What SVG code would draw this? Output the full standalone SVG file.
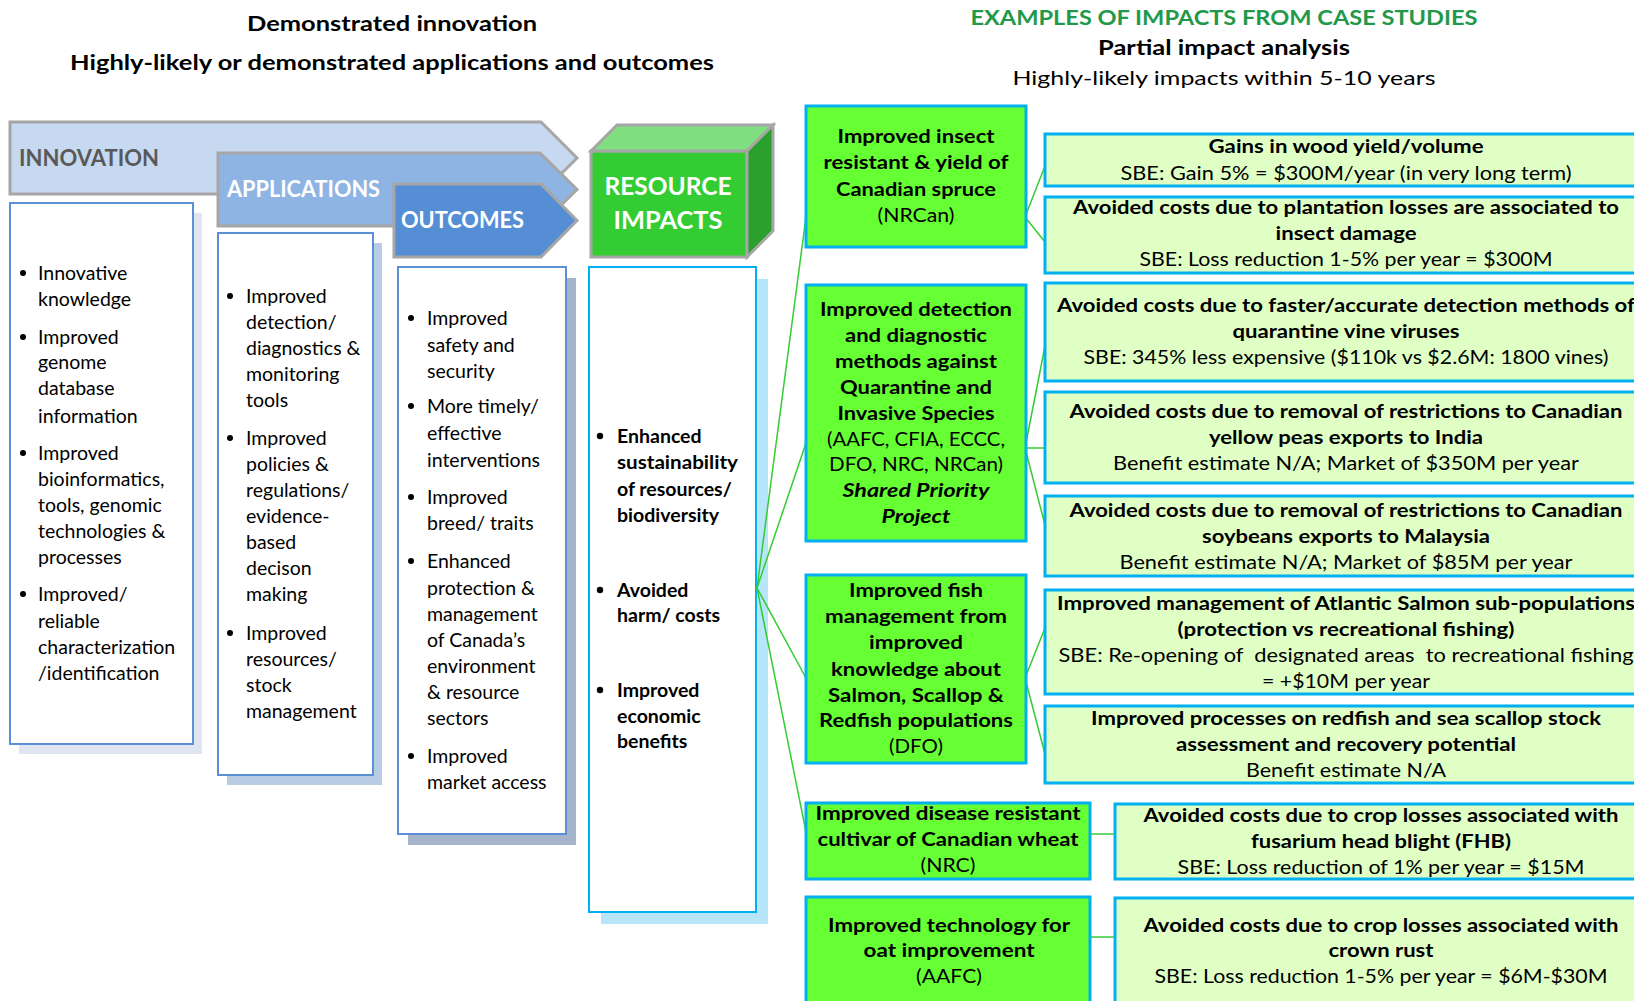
<svg xmlns="http://www.w3.org/2000/svg" width="1634" height="1001" viewBox="0 0 1634 1001">
<style>
text{font-family:Lato,"Open Sans","Liberation Sans",sans-serif;fill:#000}
.h{font-size:20px;font-weight:bold}
.l{font-size:19.5px}
.bx{font-size:19.5px}
.b{font-weight:bold}
.i{font-style:italic}
.c{text-anchor:middle}
.arrow{stroke:#A6A6A6;stroke-width:3}
.lab{font-size:22.5px;font-weight:bold}
.gbox{fill:#66FF33;stroke:#00B0F0;stroke-width:3}
.lbox{fill:#DFFFC4;stroke:#00B0F0;stroke-width:3}
.conn line{stroke:#33CC33;stroke-width:1.5}
.dot{fill:#000}
</style>

<g id="headers">
<text class="h c" x="392" y="31" textLength="290" lengthAdjust="spacingAndGlyphs">Demonstrated innovation</text>
<text class="h c" x="392" y="70" textLength="644" lengthAdjust="spacingAndGlyphs">Highly-likely or demonstrated applications and outcomes</text>
<text class="h c" x="1224" y="25" style="fill:#22994A" textLength="507" lengthAdjust="spacingAndGlyphs">EXAMPLES OF IMPACTS FROM CASE STUDIES</text>
<text class="h c" x="1224" y="55" textLength="252" lengthAdjust="spacingAndGlyphs">Partial impact analysis</text>
<text class="c" x="1224" y="85" style="font-size:20px" textLength="423" lengthAdjust="spacingAndGlyphs">Highly-likely impacts within 5-10 years</text>
</g>

<g id="innovation">
<polygon class="arrow" points="10,122 541,122 577,158 541,194 10,194" fill="#C6D9F0"/>
<text class="lab" x="19" y="166" style="fill:#595959" textLength="140" lengthAdjust="spacingAndGlyphs">INNOVATION</text>
</g>
<g id="applications">
<polygon class="arrow" points="218,153 540,153 577,189.5 540,226 218,226" fill="#8EB4E3"/>
<text class="lab" x="227" y="197" style="fill:#fff" textLength="153" lengthAdjust="spacingAndGlyphs">APPLICATIONS</text>
</g>
<g id="outcomes">
<polygon class="arrow" points="394,184 541,184 577,220.5 541,257 394,257" fill="#558ED5"/>
<text class="lab" x="401" y="228" style="fill:#fff" textLength="123" lengthAdjust="spacingAndGlyphs">OUTCOMES</text>
</g>
<g id="resource-impacts">
<rect class="arrow" x="591" y="151" width="156" height="106" fill="#33CC33"/>
<polygon class="arrow" points="591,151 617,125 773,125 747,151" fill="#80DF80"/>
<polygon class="arrow" points="747,151 773,125 773,231 747,257" fill="#2CA02C"/>
<text class="c" x="668" y="195" style="font-size:25px;font-weight:bold;fill:#fff" textLength="127" lengthAdjust="spacingAndGlyphs">RESOURCE</text>
<text class="c" x="668" y="229" style="font-size:25px;font-weight:bold;fill:#fff" textLength="109" lengthAdjust="spacingAndGlyphs">IMPACTS</text>
</g>

<g id="innovation-list">
<rect x="19" y="213" width="183" height="541" fill="#DFE5F1"/>
<rect x="10" y="203" width="183" height="541" fill="#fff" stroke="#5B8FD8" stroke-width="2"/>
<g class="dot"><circle cx="23" cy="273" r="3"/><circle cx="23" cy="337" r="3"/><circle cx="23" cy="453" r="3"/><circle cx="23" cy="594" r="3"/></g>
<text class="l" x="38" y="280">Innovative</text>
<text class="l" x="38" y="306">knowledge</text>
<text class="l" x="38" y="344">Improved</text>
<text class="l" x="38" y="369">genome</text>
<text class="l" x="38" y="395">database</text>
<text class="l" x="38" y="423">information</text>
<text class="l" x="38" y="460">Improved</text>
<text class="l" x="38" y="486">bioinformatics,</text>
<text class="l" x="38" y="512">tools, genomic</text>
<text class="l" x="38" y="538">technologies &amp;</text>
<text class="l" x="38" y="564">processes</text>
<text class="l" x="38" y="601">Improved/</text>
<text class="l" x="38" y="628">reliable</text>
<text class="l" x="38" y="654">characterization</text>
<text class="l" x="38" y="680">/identification</text>
</g>

<g id="applications-list">
<rect x="227" y="243" width="155" height="542" fill="#B8CCE4"/>
<rect x="218" y="233" width="155" height="542" fill="#fff" stroke="#5B8FD8" stroke-width="2"/>
<g class="dot"><circle cx="230" cy="296" r="3"/><circle cx="230" cy="438" r="3"/><circle cx="230" cy="633" r="3"/></g>
<text class="l" x="246" y="303">Improved</text>
<text class="l" x="246" y="329">detection/</text>
<text class="l" x="246" y="355">diagnostics &amp;</text>
<text class="l" x="246" y="381">monitoring</text>
<text class="l" x="246" y="407">tools</text>
<text class="l" x="246" y="445">Improved</text>
<text class="l" x="246" y="471">policies &amp;</text>
<text class="l" x="246" y="497">regulations/</text>
<text class="l" x="246" y="523">evidence-</text>
<text class="l" x="246" y="549">based</text>
<text class="l" x="246" y="575">decison</text>
<text class="l" x="246" y="601">making</text>
<text class="l" x="246" y="640">Improved</text>
<text class="l" x="246" y="666">resources/</text>
<text class="l" x="246" y="692">stock</text>
<text class="l" x="246" y="718">management</text>
</g>

<g id="outcomes-list">
<rect x="408" y="278" width="168" height="567" fill="#A5B4CA"/>
<rect x="398" y="267" width="168" height="567" fill="#fff" stroke="#5B8FD8" stroke-width="2"/>
<g class="dot"><circle cx="411" cy="318" r="3"/><circle cx="411" cy="406" r="3"/><circle cx="411" cy="497" r="3"/><circle cx="411" cy="561" r="3"/><circle cx="411" cy="756" r="3"/></g>
<text class="l" x="427" y="325">Improved</text>
<text class="l" x="427" y="352">safety and</text>
<text class="l" x="427" y="378">security</text>
<text class="l" x="427" y="413">More timely/</text>
<text class="l" x="427" y="440">effective</text>
<text class="l" x="427" y="467">interventions</text>
<text class="l" x="427" y="504">Improved</text>
<text class="l" x="427" y="530">breed/ traits</text>
<text class="l" x="427" y="568">Enhanced</text>
<text class="l" x="427" y="595">protection &amp;</text>
<text class="l" x="427" y="621">management</text>
<text class="l" x="427" y="647">of Canada’s</text>
<text class="l" x="427" y="673">environment</text>
<text class="l" x="427" y="699">&amp; resource</text>
<text class="l" x="427" y="725">sectors</text>
<text class="l" x="427" y="763">Improved</text>
<text class="l" x="427" y="789">market access</text>
</g>

<g id="impacts-list">
<rect x="601" y="279" width="167" height="645" fill="#B7E6F8"/>
<rect x="589" y="267" width="167" height="645" fill="#fff" stroke="#00B0F0" stroke-width="2"/>
<g class="dot"><circle cx="600" cy="436" r="3.2"/><circle cx="600" cy="590" r="3.2"/><circle cx="600" cy="690" r="3.2"/></g>
<text class="l b" x="617" y="443">Enhanced</text>
<text class="l b" x="617" y="469" textLength="121" lengthAdjust="spacingAndGlyphs">sustainability</text>
<text class="l b" x="617" y="496">of resources/</text>
<text class="l b" x="617" y="522">biodiversity</text>
<text class="l b" x="617" y="597">Avoided</text>
<text class="l b" x="617" y="622">harm/ costs</text>
<text class="l b" x="617" y="697">Improved</text>
<text class="l b" x="617" y="723">economic</text>
<text class="l b" x="617" y="748">benefits</text>
</g>

<g id="connectors" class="conn">
<line x1="757" y1="588" x2="806" y2="217"/>
<line x1="757" y1="588" x2="806" y2="443"/>
<line x1="757" y1="588" x2="806" y2="678"/>
<line x1="757" y1="588" x2="806" y2="832"/>
<line x1="1025" y1="217" x2="1045" y2="166"/>
<line x1="1025" y1="217" x2="1045" y2="242"/>
<line x1="1025" y1="448" x2="1045" y2="346"/>
<line x1="1025" y1="448" x2="1045" y2="448"/>
<line x1="1025" y1="448" x2="1045" y2="525"/>
<line x1="1025" y1="678" x2="1045" y2="628"/>
<line x1="1025" y1="678" x2="1045" y2="754"/>
<line x1="1090" y1="834" x2="1115" y2="834"/>
<line x1="1090" y1="937" x2="1115" y2="937"/>
</g>

<g id="spruce">
<rect class="gbox" x="806" y="106" width="220" height="141"/>
<text class="bx b c" x="916" y="143" textLength="157" lengthAdjust="spacingAndGlyphs">Improved insect</text>
<text class="bx b c" x="916" y="169" textLength="185" lengthAdjust="spacingAndGlyphs">resistant &amp; yield of</text>
<text class="bx b c" x="916" y="196" textLength="160" lengthAdjust="spacingAndGlyphs">Canadian spruce</text>
<text class="bx c" x="916" y="222" textLength="77" lengthAdjust="spacingAndGlyphs">(NRCan)</text>
</g>
<g id="detection">
<rect class="gbox" x="806" y="285" width="220" height="256"/>
<text class="bx b c" x="916" y="316" textLength="192" lengthAdjust="spacingAndGlyphs">Improved detection</text>
<text class="bx b c" x="916" y="342" textLength="142" lengthAdjust="spacingAndGlyphs">and diagnostic</text>
<text class="bx b c" x="916" y="368" textLength="162" lengthAdjust="spacingAndGlyphs">methods against</text>
<text class="bx b c" x="916" y="394" textLength="152" lengthAdjust="spacingAndGlyphs">Quarantine and</text>
<text class="bx b c" x="916" y="420" textLength="157" lengthAdjust="spacingAndGlyphs">Invasive Species</text>
<text class="bx c" x="916" y="446" textLength="178" lengthAdjust="spacingAndGlyphs">(AAFC, CFIA, ECCC,</text>
<text class="bx c" x="916" y="471" textLength="174" lengthAdjust="spacingAndGlyphs">DFO, NRC, NRCan)</text>
<text class="bx b i c" x="916" y="497" textLength="147" lengthAdjust="spacingAndGlyphs">Shared Priority</text>
<text class="bx b i c" x="916" y="523" textLength="69" lengthAdjust="spacingAndGlyphs">Project</text>
</g>
<g id="fish">
<rect class="gbox" x="806" y="575" width="220" height="188"/>
<text class="bx b c" x="916" y="597" textLength="134" lengthAdjust="spacingAndGlyphs">Improved fish</text>
<text class="bx b c" x="916" y="623" textLength="182" lengthAdjust="spacingAndGlyphs">management from</text>
<text class="bx b c" x="916" y="649" textLength="94" lengthAdjust="spacingAndGlyphs">improved</text>
<text class="bx b c" x="916" y="676" textLength="170" lengthAdjust="spacingAndGlyphs">knowledge about</text>
<text class="bx b c" x="916" y="702" textLength="176" lengthAdjust="spacingAndGlyphs">Salmon, Scallop &amp;</text>
<text class="bx b c" x="916" y="727" textLength="194" lengthAdjust="spacingAndGlyphs">Redfish populations</text>
<text class="bx c" x="916" y="753" textLength="54" lengthAdjust="spacingAndGlyphs">(DFO)</text>
</g>
<g id="wheat">
<rect class="gbox" x="806" y="803" width="284" height="76"/>
<text class="bx b c" x="948" y="820" textLength="265" lengthAdjust="spacingAndGlyphs">Improved disease resistant</text>
<text class="bx b c" x="948" y="846" textLength="261" lengthAdjust="spacingAndGlyphs">cultivar of Canadian wheat</text>
<text class="bx c" x="948" y="872" textLength="55" lengthAdjust="spacingAndGlyphs">(NRC)</text>
</g>
<g id="oat">
<rect class="gbox" x="806" y="897" width="284" height="120"/>
<text class="bx b c" x="949" y="932" textLength="242" lengthAdjust="spacingAndGlyphs">Improved technology for</text>
<text class="bx b c" x="949" y="957" textLength="171" lengthAdjust="spacingAndGlyphs">oat improvement</text>
<text class="bx c" x="949" y="983" textLength="66" lengthAdjust="spacingAndGlyphs">(AAFC)</text>
</g>

<g id="wood-yield">
<rect class="lbox" x="1045" y="134" width="610" height="52"/>
<text class="bx b c" x="1346" y="153" textLength="275" lengthAdjust="spacingAndGlyphs">Gains in wood yield/volume</text>
<text class="bx c" x="1346" y="180" textLength="451" lengthAdjust="spacingAndGlyphs">SBE: Gain 5% = $300M/year (in very long term)</text>
</g>
<g id="plantation-losses">
<rect class="lbox" x="1045" y="197" width="610" height="76"/>
<text class="bx b c" x="1346" y="214" textLength="546" lengthAdjust="spacingAndGlyphs">Avoided costs due to plantation losses are associated to</text>
<text class="bx b c" x="1346" y="240" textLength="141" lengthAdjust="spacingAndGlyphs">insect damage</text>
<text class="bx c" x="1346" y="266" textLength="413" lengthAdjust="spacingAndGlyphs">SBE: Loss reduction 1-5% per year = $300M</text>
</g>
<g id="vine-viruses">
<rect class="lbox" x="1045" y="283" width="610" height="98"/>
<text class="bx b c" x="1346" y="312" textLength="578" lengthAdjust="spacingAndGlyphs">Avoided costs due to faster/accurate detection methods of</text>
<text class="bx b c" x="1346" y="338" textLength="227" lengthAdjust="spacingAndGlyphs">quarantine vine viruses</text>
<text class="bx c" x="1346" y="364" textLength="525" lengthAdjust="spacingAndGlyphs">SBE: 345% less expensive ($110k vs $2.6M: 1800 vines)</text>
</g>
<g id="yellow-peas">
<rect class="lbox" x="1045" y="392" width="610" height="91"/>
<text class="bx b c" x="1346" y="418" textLength="553" lengthAdjust="spacingAndGlyphs">Avoided costs due to removal of restrictions to Canadian</text>
<text class="bx b c" x="1346" y="444" textLength="274" lengthAdjust="spacingAndGlyphs">yellow peas exports to India</text>
<text class="bx c" x="1346" y="470" textLength="466" lengthAdjust="spacingAndGlyphs">Benefit estimate N/A; Market of $350M per year</text>
</g>
<g id="soybeans">
<rect class="lbox" x="1045" y="496" width="610" height="80"/>
<text class="bx b c" x="1346" y="517" textLength="553" lengthAdjust="spacingAndGlyphs">Avoided costs due to removal of restrictions to Canadian</text>
<text class="bx b c" x="1346" y="543" textLength="288" lengthAdjust="spacingAndGlyphs">soybeans exports to Malaysia</text>
<text class="bx c" x="1346" y="569" textLength="453" lengthAdjust="spacingAndGlyphs">Benefit estimate N/A; Market of $85M per year</text>
</g>
<g id="salmon">
<rect class="lbox" x="1045" y="590" width="610" height="104"/>
<text class="bx b c" x="1346" y="610" textLength="578" lengthAdjust="spacingAndGlyphs">Improved management of Atlantic Salmon sub-populations</text>
<text class="bx b c" x="1346" y="636" textLength="337" lengthAdjust="spacingAndGlyphs">(protection vs recreational fishing)</text>
<text class="bx c" x="1346" y="662" textLength="575" lengthAdjust="spacingAndGlyphs" xml:space="preserve">SBE: Re-opening of  designated areas  to recreational fishing</text>
<text class="bx c" x="1346" y="688" textLength="168" lengthAdjust="spacingAndGlyphs">= +$10M per year</text>
</g>
<g id="redfish-scallop">
<rect class="lbox" x="1045" y="706" width="610" height="77"/>
<text class="bx b c" x="1346" y="725" textLength="510" lengthAdjust="spacingAndGlyphs">Improved processes on redfish and sea scallop stock</text>
<text class="bx b c" x="1346" y="751" textLength="340" lengthAdjust="spacingAndGlyphs">assessment and recovery potential</text>
<text class="bx c" x="1346" y="777" textLength="200" lengthAdjust="spacingAndGlyphs">Benefit estimate N/A</text>
</g>
<g id="fhb">
<rect class="lbox" x="1115" y="804" width="540" height="75"/>
<text class="bx b c" x="1381" y="822" textLength="475" lengthAdjust="spacingAndGlyphs">Avoided costs due to crop losses associated with</text>
<text class="bx b c" x="1381" y="848" textLength="260" lengthAdjust="spacingAndGlyphs">fusarium head blight (FHB)</text>
<text class="bx c" x="1381" y="874" textLength="407" lengthAdjust="spacingAndGlyphs">SBE: Loss reduction of 1% per year = $15M</text>
</g>
<g id="crown-rust">
<rect class="lbox" x="1115" y="898" width="540" height="120"/>
<text class="bx b c" x="1381" y="932" textLength="475" lengthAdjust="spacingAndGlyphs">Avoided costs due to crop losses associated with</text>
<text class="bx b c" x="1381" y="957" textLength="105" lengthAdjust="spacingAndGlyphs">crown rust</text>
<text class="bx c" x="1381" y="983" textLength="453" lengthAdjust="spacingAndGlyphs">SBE: Loss reduction 1-5% per year = $6M-$30M</text>
</g>
</svg>
